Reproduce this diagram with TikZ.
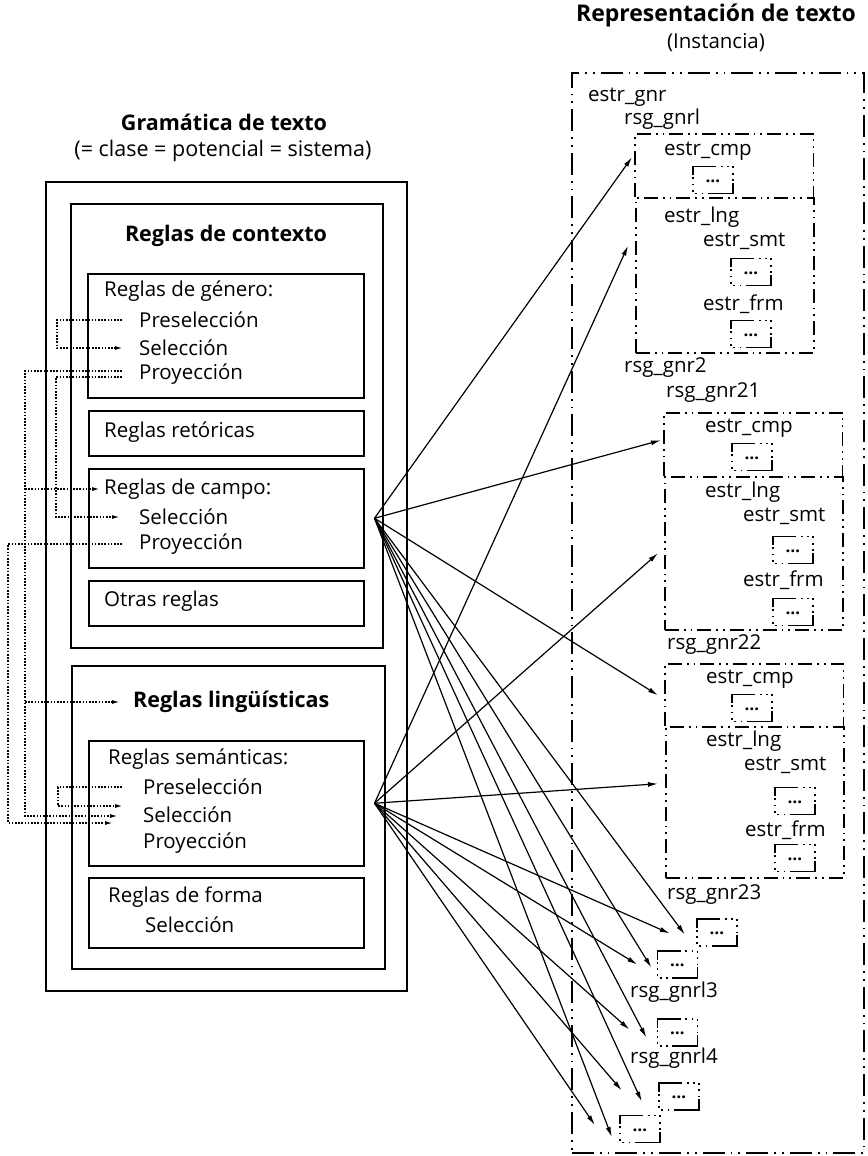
\documentclass[tikz,border=0pt]{standalone}
\usepackage{fontspec}
\setmainfont{Open Sans}
\usetikzlibrary{arrows.meta}

\begin{document}
\begin{tikzpicture}[x=1pt,y=-1pt,font=\fontsize{20.5}{24}\selectfont,
  >={Latex[length=10pt,width=5pt]},
  box/.style={draw,line width=1.5pt,anchor=north west,inner sep=0pt},
  inst/.style={line width=1.5pt,dash pattern=on 14pt off 5pt on 1.8pt off 5pt on 1.8pt off 5pt},
  instbox/.style={draw,inst,anchor=north west,inner sep=0pt},
  txt/.style={anchor=west,inner sep=0pt},
  hd/.style={inner sep=0pt,font=\fontsize{21.5}{25}\selectfont\bfseries},
  sub/.style={minimum width=40pt,minimum height=27pt,inner sep=0pt,font=\fontsize{17}{17}\selectfont\bfseries},
  subdot/.style={line width=1.5pt,dash pattern=on 1.8pt off 4.5pt,dash phase=1.8pt},
  fan/.style={->,line width=1.2pt},
  flow/.style={-{Latex[length=8pt,width=4pt]},line width=1.4pt,dash pattern=on 1.6pt off 1.6pt}]
\useasboundingbox (0,0) rectangle (867,1156);

% Grammatik (links)
\node[hd] (gramh) at (224,122) {Gramática de texto};
\node[inner sep=0pt,font=\fontsize{21.5}{25}\selectfont] (grams) at (223,151) {(= clase = potencial = sistema)};
\node[box,minimum width=361pt,minimum height=809pt] (gram) at (45,181) {};
\node[box,minimum width=312pt,minimum height=444pt] (ctx) at (70,203) {};
\node[hd] (ctxh) at (226,236) {Reglas de contexto};
\node[box,minimum width=276pt,minimum height=124pt] (gen) at (87,273) {};
\node[box,minimum width=275pt,minimum height=45pt] (ret) at (88,410) {};
\node[box,minimum width=275pt,minimum height=99pt] (cam) at (88,468) {};
\node[box,minimum width=275pt,minimum height=45pt] (otr) at (88,580) {};
\node[box,minimum width=313pt,minimum height=303pt] (lin) at (71,665) {};
\node[box,minimum width=275pt,minimum height=125pt] (sem) at (88,740) {};
\node[box,minimum width=275pt,minimum height=70pt] (frm) at (88,877) {};

\node[txt] (genh) at (104,291) {Reglas de género:};
\node[txt] (gpre) at (139,320) {Preselección};
\node[txt] (gsel) at (139,348) {Selección};
\node[txt] (gpro) at (139,374) {Proyección};
\node[txt] (reth) at (104,432) {Reglas retóricas};
\node[txt] (ccam) at (104,489) {Reglas de campo:};
\node[txt] (csel) at (139,517) {Selección};
\node[txt] (cpro) at (139,544) {Proyección};
\node[txt] (otrh) at (104,601) {Otras reglas};
\node[txt,hd,anchor=west] (ling) at (133,702) {Reglas lingüísticas};
\node[txt] (semh) at (108,759) {Reglas semánticas:};
\node[txt] (spre) at (143,787) {Preselección};
\node[txt] (ssel) at (143,815) {Selección};
\node[txt] (spro) at (143,843) {Proyección};
\node[txt] (frmh) at (108,897) {Reglas de forma};
\node[txt] (fsel) at (145,925) {Selección};

% Instanz (rechts)
\node[hd,font=\fontsize{23}{27}\selectfont\bfseries] (reph) at (716,15) {Representación de texto};
\node[inner sep=0pt] (repi) at (716,43) {(Instancia)};
\node[draw,anchor=north west,inner sep=0pt,line width=1.5pt,
  dash pattern=on 22pt off 6pt on 1.8pt off 6pt on 1.8pt off 6pt,
  minimum width=292pt,minimum height=1080pt] (rep) at (571,72) {};
\node[anchor=north west,minimum width=178pt,minimum height=63pt] (cmp1) at (635,134) {};
\node[instbox,minimum width=178pt,minimum height=155pt] (lng1) at (635,197) {};
\node[anchor=north west,minimum width=178pt,minimum height=63pt] (cmp21) at (664,413) {};
\node[instbox,minimum width=178pt,minimum height=153pt] (lng21) at (664,476) {};
\node[anchor=north west,minimum width=178pt,minimum height=62pt] (cmp22) at (665,664) {};
\node[instbox,minimum width=178pt,minimum height=151pt] (lng22) at (665,726) {};
\foreach \b in {cmp1,cmp21,cmp22}
  \draw[inst] (\b.south west) |- (\b.north east) -- (\b.south east);

\node[txt] (tgnr) at (588,97) {estr\_gnr};
\node[txt] (r1) at (624,119) {rsg\_gnrl};
\node[txt] (c1) at (664,151) {estr\_cmp};
\node[txt] (l1) at (664,217) {estr\_lng};
\node[txt] (m1) at (703,241) {estr\_smt};
\node[txt] (f1) at (703,304) {estr\_frm};
\node[txt] (r2) at (624,368) {rsg\_gnr2};
\node[txt] (r21) at (666,393) {rsg\_gnr21};
\node[txt] (c21) at (705,428) {estr\_cmp};
\node[txt] (l21) at (705,492) {estr\_lng};
\node[txt] (m21) at (743,516) {estr\_smt};
\node[txt] (f21) at (743,580) {estr\_frm};
\node[txt] (r22) at (667,645) {rsg\_gnr22};
\node[txt] (c22) at (706,679) {estr\_cmp};
\node[txt] (l22) at (706,741) {estr\_lng};
\node[txt] (m22) at (744,765) {estr\_smt};
\node[txt] (f22) at (745,830) {estr\_frm};
\node[txt] (r23) at (667,895) {rsg\_gnr23};
\node[txt] (r3) at (630,992) {rsg\_gnrl3};
\node[txt] (r4) at (630,1058) {rsg\_gnrl4};

\node[sub] (s1) at (713,180) {\raisebox{-5pt}{\ldots}};
\node[sub] (s2) at (751,272) {\raisebox{-5pt}{\ldots}};
\node[sub] (s3) at (751,334) {\raisebox{-5pt}{\ldots}};
\node[sub] (s4) at (752,457) {\raisebox{-5pt}{\ldots}};
\node[sub] (s5) at (793,550) {\raisebox{-5pt}{\ldots}};
\node[sub] (s6) at (793,612) {\raisebox{-5pt}{\ldots}};
\node[sub] (s7) at (752,708) {\raisebox{-5pt}{\ldots}};
\node[sub] (s8) at (795,801) {\raisebox{-5pt}{\ldots}};
\node[sub] (s9) at (795,858) {\raisebox{-5pt}{\ldots}};
\node[sub] (sA) at (717,932.5) {\raisebox{-5pt}{\ldots}};
\node[sub] (sB) at (677.5,964.5) {\raisebox{-5pt}{\ldots}};
\node[sub] (sC) at (677.5,1032.5) {\raisebox{-5pt}{\ldots}};
\node[sub] (sD) at (679,1096.5) {\raisebox{-5pt}{\ldots}};
\node[sub] (sE) at (640,1129) {\raisebox{-5pt}{\ldots}};
\foreach \s in {s1,s2,s3,s4,s5,s6,s7,s8,s9,sA,sB,sC,sD,sE} {
  \draw[line width=1.5pt] ([yshift=-9pt]\s.north west) |- ([xshift=-17pt]\s.north east);
  \draw[line width=1.5pt] ([xshift=15pt]\s.south west) -| ([yshift=11pt]\s.south east);
  \draw[subdot] ([xshift=-17pt]\s.north east) -| ([yshift=11pt]\s.south east);
  \draw[subdot] ([xshift=15pt]\s.south west) -| ([yshift=-9pt]\s.north west);
}

% Pfeile Grammatik -> Instanz
\coordinate (hub1) at ([xshift=10pt]cam.east);
\coordinate (hub2) at ([xshift=10pt]sem.east);
\foreach \n/\dx/\dy in {cmp1/-3/-8.5,cmp21/-3/-4.5,cmp22/-7/0,sA/-12/2,sB/-6/3,sC/-11/5,sD/-17/5,sE/-8/8}
  \draw[fan] (hub1) -- ([shift={(\dx,\dy)}]\n.west);
\foreach \n/\dx/\dy in {lng1/-7/-29.5,lng21/-6/0,lng22/-7/-18.5,sA/-27/1,sB/-20/0,sC/-28/-3,sD/-37/-6,sE/-25/-4}
  \draw[fan] (hub2) -- ([shift={(\dx,\dy)}]\n.west);

% Querverweise (punktiert)
\coordinate (lane0) at (8,0);
\coordinate (lane1) at (25,0);
\draw[flow] ([xshift=-17pt]gpre.west) -- ++(-65,0) |- ([xshift=-16pt]gsel.west);
\draw[flow] ([shift={(-17,3)}]gpro.west) -- ++(-66,0) |- ([xshift=-19pt]csel.west);
\draw[flow] ([shift={(-17,-3)}]gpro.west) -- ++(-97,0) |- ([shift={(-25,1)}]ssel.west);
\draw[flow] (lane1 |- ccam.west) -- ([xshift=-4pt]ccam.west);
\draw[flow] (lane1 |- ling.west) -- ([xshift=-13pt]ling.west);
\draw[flow] ([xshift=-17pt]cpro.west) -- (lane0 |- cpro.west) |- ([shift={(-30,8)}]ssel.west);
\draw[flow] ([xshift=-21pt]spre.west) -- ++(-64,0) |- ([shift={(-20,-9)}]ssel.west);
\end{tikzpicture}
\end{document}
